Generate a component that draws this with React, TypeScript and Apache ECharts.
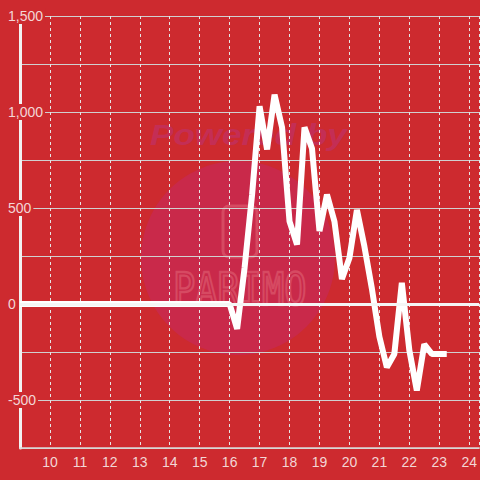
import React, { useEffect, useRef } from "react";
import * as echarts from "echarts";

const hours: number[] = [
  9, 16, 16.25, 16.5, 16.75, 17, 17.25, 17.5, 17.75, 18, 18.25, 18.5, 18.75,
  19, 19.25, 19.5, 19.75, 20, 20.25, 20.5, 20.75, 21, 21.25, 21.5, 21.75, 22,
  22.25, 22.5, 22.75, 23, 23.25,
];
const values: number[] = [
  0, 0, -130, 190, 570, 1030, 805, 1090, 920, 430, 310, 920, 810, 380, 570,
  430, 130, 240, 490, 300, 80, -170, -330, -260, 110, -240, -450, -210, -260,
  -260, -260,
];

const BG = "#cd2a2f";

export default function App() {
  const ref = useRef<HTMLDivElement>(null);
  useEffect(() => {
    if (!ref.current) return;
    const chart = echarts.init(ref.current, null, { renderer: "svg" });
    const data = hours.map((h, i) => [h, values[i]]);
    chart.setOption({
      animation: false,
      backgroundColor: BG,
      grid: { left: 20, right: 0, top: 16, bottom: 32 },
      graphic: [
        {
          type: "group",
          z: -10,
          silent: true,
          children: [
            {
              type: "circle",
              shape: { cx: 238, cy: 258, r: 97 },
              style: { fill: "#c9294a" },
            },
            {
              type: "text",
              x: 150,
              y: 134,
              scaleX: 1.17,
              style: {
                text: "Powered by",
                font: "italic bold 30px sans-serif",
                fill: "#c42e55",
                verticalAlign: "middle",
              },
            },
            {
              type: "rect",
              shape: { x: 223, y: 206, width: 34, height: 51, r: 6 },
              style: { fill: "none", stroke: "#d64a62", lineWidth: 3 },
            },
            {
              type: "text",
              x: 173,
              y: 290,
              scaleY: 1.2,
              style: {
                text: "PARIMO",
                font: "37px 'DejaVu Sans Mono'",
                fill: "none",
                stroke: "#d64a62",
                lineWidth: 2,
                verticalAlign: "middle",
              },
            },
          ],
        },
      ],
      xAxis: {
        type: "value",
        min: 9,
        max: 24.3333,
        interval: 1,
        axisLine: { show: true, onZero: false, lineStyle: { color: "#d9d9d9", width: 1.5 } },
        axisTick: { show: false },
        axisLabel: {
          color: "#f3d6d6",
          fontSize: 14,
          margin: 7,
          showMinLabel: false,
          showMaxLabel: false,
          formatter: (v: number) => (Number.isInteger(v) ? String(v) : ""),
        },
        splitLine: {
          show: true,
          lineStyle: { color: "#e6e6e6", width: 1, type: [3, 3] },
        },
      },
      yAxis: {
        type: "value",
        min: -750,
        max: 1500,
        interval: 250,
        axisLine: { show: true, lineStyle: { color: "#f2f2f2", width: 3 } },
        axisTick: { show: false },
        axisLabel: {
          color: "#f3d6d6",
          fontSize: 14,
          align: "left",
          margin: 14,
          padding: [1, 2, 1, 2],
          backgroundColor: BG,
          formatter: (v: number) =>
            v % 500 === 0 ? v.toLocaleString("en-US") : "",
        },
        splitLine: { show: true, lineStyle: { color: "#d0d0d0", width: 1 } },
      },
      series: [
        {
          type: "line",
          data,
          showSymbol: false,
          symbol: "none",
          lineStyle: { color: "#ffffff", width: 6 },
          markLine: {
            silent: true,
            symbol: "none",
            label: { show: false },
            lineStyle: { color: "#f5f5f5", width: 3, type: "solid" },
            data: [{ yAxis: 0 }],
          },
        },
      ],
    });
    return () => chart.dispose();
  }, []);
  return (
    <div
      ref={ref}
      style={{ position: "absolute", left: 0, top: 0, width: 480, height: 480 }}
    />
  );
}
